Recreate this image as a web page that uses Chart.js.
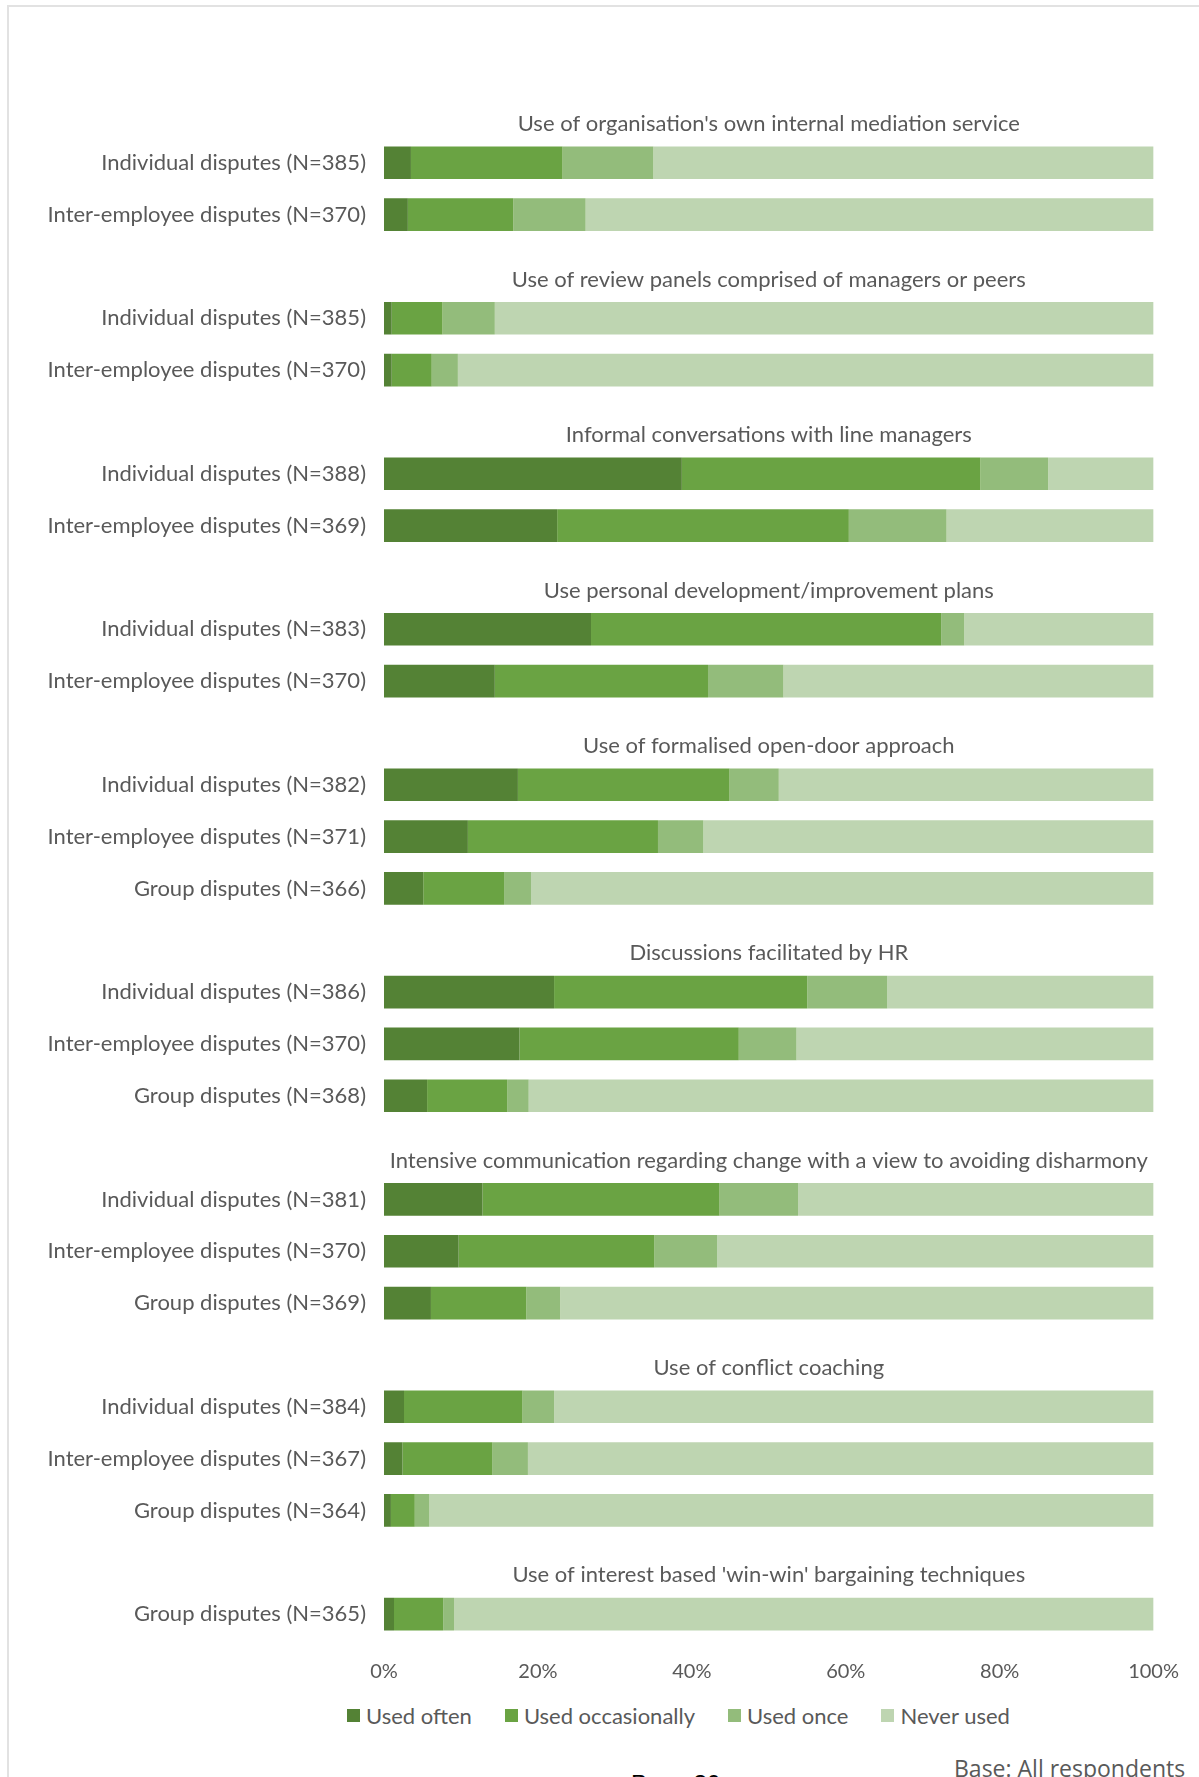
<!DOCTYPE html>
<html>
<head>
<meta charset="utf-8">
<script src="https://cdn.jsdelivr.net/npm/chart.js@4.4.1/dist/chart.umd.min.js"></script>
<style>
  html, body { margin: 0; padding: 0; background: #fff; overflow: hidden; }
  body { width: 1199px; height: 1777px; position: relative; }
  .frame-top { position: absolute; left: 7px; top: 5px; width: 1192px; height: 2px; background: #e2e2e2; }
  .frame-left { position: absolute; left: 7px; top: 5px; width: 2px; height: 1772px; background: #e2e2e2; }
  #wrap { position: absolute; left: 0; top: 0; width: 1199px; height: 1690px; }
  #legend { position: absolute; left: 347px; top: 1702px; display: flex; align-items: center;
            font: 22px Lato, sans-serif; color: #595959; white-space: nowrap; }
  #legend .item { display: flex; align-items: center; margin-right: 33px; }
  #legend .box { width: 13px; height: 13px; margin-right: 6px; }
  .base { position: absolute; left: 954px; top: 1752px; font: 23px "Open Sans", sans-serif; color: #595959; }
  .page { position: absolute; left: 631px; top: 1770px; font: 24px "Liberation Sans", Arial, sans-serif; color: #000; }
</style>
</head>
<body>
<div class="frame-top"></div>
<div class="frame-left"></div>
<div id="wrap"><canvas id="chart"></canvas></div>
<div id="legend"></div>
<div class="base">Base: All respondents</div>
<div class="page">Page 30</div>
<script>
const seriesNames = ['Used often', 'Used occasionally', 'Used once', 'Never used'];
const seriesColors = ['#548235', '#6aa343', '#93bc7b', '#bed5b1'];

// rows of the category axis; title rows are blank and get their heading drawn by a plugin
const rowLabels = [
  '', 'Individual disputes (N=385)', 'Inter-employee disputes (N=370)',
  '', 'Individual disputes (N=385)', 'Inter-employee disputes (N=370)',
  '', 'Individual disputes (N=388)', 'Inter-employee disputes (N=369)',
  '', 'Individual disputes (N=383)', 'Inter-employee disputes (N=370)',
  '', 'Individual disputes (N=382)', 'Inter-employee disputes (N=371)', 'Group disputes (N=366)',
  '', 'Individual disputes (N=386)', 'Inter-employee disputes (N=370)', 'Group disputes (N=368)',
  '', 'Individual disputes (N=381)', 'Inter-employee disputes (N=370)', 'Group disputes (N=369)',
  '', 'Individual disputes (N=384)', 'Inter-employee disputes (N=367)', 'Group disputes (N=364)',
  '', 'Group disputes (N=365)'
];

const titleRows = [0, 3, 6, 9, 12, 16, 20, 24, 28];
const groupTitles = [
  "Use of organisation's own internal mediation service",
  'Use of review panels comprised of managers or peers',
  'Informal conversations with line managers',
  'Use personal development/improvement plans',
  'Use of formalised open-door approach',
  'Discussions facilitated by HR',
  'Intensive communication regarding change with a view to avoiding disharmony',
  'Use of conflict coaching',
  "Use of interest based 'win-win' bargaining techniques"
];

const usedOften = [
  null, 3.5, 3.1,
  null, 1.0, 1.0,
  null, 38.7, 22.5,
  null, 26.9, 14.4,
  null, 17.4, 10.9, 5.1,
  null, 22.1, 17.6, 5.6,
  null, 12.8, 9.7, 6.1,
  null, 2.6, 2.4, 0.9,
  null, 1.3
];
const usedOccasionally = [
  null, 19.7, 13.7,
  null, 6.6, 5.2,
  null, 38.8, 37.9,
  null, 45.5, 27.7,
  null, 27.5, 24.7, 10.5,
  null, 32.9, 28.5, 10.4,
  null, 30.8, 25.4, 12.4,
  null, 15.4, 11.7, 3.1,
  null, 6.4
];
const usedOnce = [
  null, 11.8, 9.4,
  null, 6.8, 3.4,
  null, 8.8, 12.7,
  null, 3.0, 9.8,
  null, 6.4, 5.9, 3.5,
  null, 10.4, 7.5, 2.8,
  null, 10.2, 8.2, 4.4,
  null, 4.1, 4.6, 1.9,
  null, 1.4
];
const neverUsed = [
  null, 65.0, 73.8,
  null, 85.6, 90.4,
  null, 13.7, 26.9,
  null, 24.6, 48.1,
  null, 48.7, 58.5, 80.9,
  null, 34.6, 46.4, 81.2,
  null, 46.2, 56.7, 77.1,
  null, 77.9, 81.3, 94.1,
  null, 90.9
];

const xTicks = [0, 20, 40, 60, 80, 100];

Chart.defaults.font.family = 'Lato';
Chart.defaults.font.size = 22;
Chart.defaults.color = '#595959';

const groupTitlePlugin = {
  id: 'groupTitles',
  afterDraw(chart) {
    const { ctx, chartArea, scales } = chart;
    ctx.save();
    ctx.font = '22px Lato';
    ctx.fillStyle = '#595959';
    ctx.textAlign = 'center';
    ctx.textBaseline = 'middle';
    const cx = (chartArea.left + chartArea.right) / 2;
    titleRows.forEach((row, i) => {
      ctx.fillText(groupTitles[i], cx, scales.y.getPixelForValue(row) + 13);
    });
    ctx.restore();
  }
};

const allSeries = [usedOften, usedOccasionally, usedOnce, neverUsed];

const chart = new Chart(document.getElementById('chart'), {
  type: 'bar',
  data: {
    labels: rowLabels,
    datasets: allSeries.map((values, i) => ({
      label: seriesNames[i],
      data: values,
      backgroundColor: seriesColors[i],
      borderWidth: 0,
      barPercentage: 0.63,
      categoryPercentage: 1
    }))
  },
  options: {
    indexAxis: 'y',
    responsive: true,
    maintainAspectRatio: false,
    animation: false,
    layout: { padding: { left: 0, right: 38, top: 85, bottom: 0 } },
    plugins: {
      legend: { display: false },
      tooltip: { enabled: false }
    },
    scales: {
      x: {
        stacked: true,
        min: 0,
        max: 100,
        afterBuildTicks: scale => { scale.ticks = xTicks.map(v => ({ value: v })); },
        afterFit: scale => { scale.height = 50; },
        ticks: { padding: 20, font: { size: 20 }, callback: v => v + '%' },
        grid: { display: false, drawTicks: false },
        border: { display: false }
      },
      y: {
        stacked: true,
        afterFit: scale => { scale.width = 384; },
        ticks: { padding: 18, autoSkip: false },
        grid: { display: false, drawTicks: false },
        border: { display: false }
      }
    }
  },
  plugins: [groupTitlePlugin]
});

// the plot should end at x=1157; nudge the right padding if the label overflow ate into it
const plotRight = 1157;
const off = chart.chartArea.right - plotRight;
if (Math.abs(off) > 0.5) {
  chart.options.layout.padding.right = Math.max(0, chart.options.layout.padding.right + off);
  chart.update();
}

const legend = document.getElementById('legend');
seriesNames.forEach((name, i) => {
  const item = document.createElement('div');
  item.className = 'item';
  item.innerHTML = '<span class="box" style="background:' + seriesColors[i] + '"></span>' + name;
  legend.appendChild(item);
});
</script>
</body>
</html>
